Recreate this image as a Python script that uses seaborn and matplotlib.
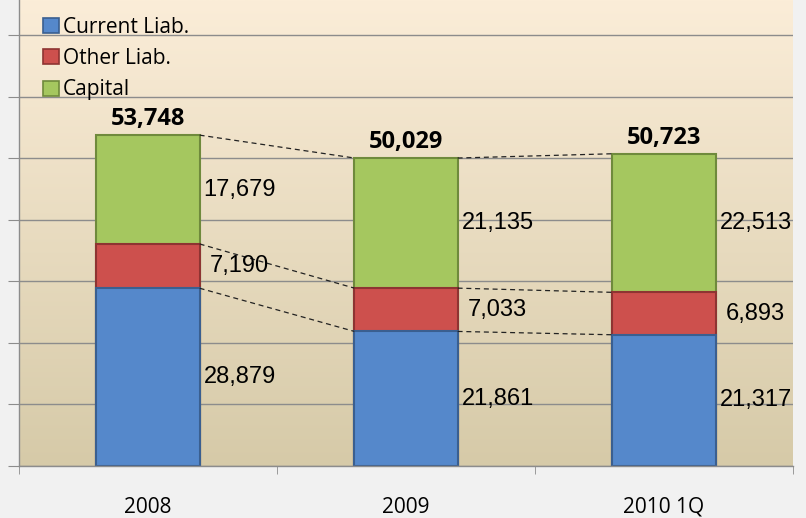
import numpy as np
import pandas as pd
import matplotlib
matplotlib.use("Agg")
import matplotlib.pyplot as plt
import seaborn as sns
from matplotlib.patches import Patch

# -------------------------------------------------------
# Data: balance structure (Current Liab. / Other Liab. / Capital)
# -------------------------------------------------------
periods = ["2008", "2009", "2010 1Q"]
current_liab = [28879, 21861, 21317]
other_liab = [7190, 7033, 6893]
capital = [17679, 21135, 22513]
totals = [53748, 50029, 50723]

series_names = ["Current Liab.", "Other Liab.", "Capital"]
colors = ["#5588CB", "#CD504D", "#A5C75F"]
edges = ["#3A5F90", "#8E3432", "#6F8A3C"]

df = pd.DataFrame({
    "period": periods,
    "Current Liab.": current_liab,
    "Other Liab.": other_liab,
    "Capital": capital,
})
# cumulative tops for overlay stacking
df["top_current"] = df["Current Liab."]
df["top_other"] = df["top_current"] + df["Other Liab."]
df["top_capital"] = df["top_other"] + df["Capital"]

sns.set_style("white")
plt.rcParams["font.family"] = ["Open Sans", "DejaVu Sans"]

fig = plt.figure(figsize=(8.06, 5.18), dpi=100)
fig.patch.set_facecolor("#F1F1F1")
ax = fig.add_axes([19 / 806, 52 / 518, 774 / 806, 466 / 518])

ymax = 75700
ax.set_xlim(-0.5, 2.5)
ax.set_ylim(0, ymax)

# gradient background in the plot area
top_c = np.array([251, 237, 216]) / 255
bot_c = np.array([214, 202, 168]) / 255
t = np.linspace(0, 1, 256)[:, None]
grad = (top_c * (1 - t) + bot_c * t)[:, None, :]
ax.imshow(grad, extent=[-0.5, 2.5, 0, ymax], aspect="auto", zorder=0)
ax.set_facecolor("none")

# gridlines
ax.set_yticks(np.arange(0, 70001, 10000))
ax.yaxis.grid(True, color="#8C8C8C", linewidth=1)
ax.set_axisbelow(True)

# stacked bars drawn as overlays from the tallest layer down
layers = [("top_capital", 2), ("top_other", 1), ("top_current", 0)]
for col, i in layers:
    sns.barplot(data=df, x="period", y=col, order=periods, color=colors[i],
                width=0.4, edgecolor=edges[i], linewidth=1.5, saturation=1,
                ax=ax, zorder=2)

# patches: first 3 capital, next 3 other, last 3 current
bars = {2: ax.patches[0:3], 1: ax.patches[3:6], 0: ax.patches[6:9]}

# dashed connector lines between the bars
for i in range(3):
    for j in range(2):
        p1 = bars[i][j]
        p2 = bars[i][j + 1]
        ax.plot([p1.get_x() + p1.get_width(), p2.get_x()],
                [p1.get_height(), p2.get_height()],
                color="#222222", linestyle=(0, (4, 3)), linewidth=0.9, zorder=3)

# segment labels to the right of each bar
seg_values = [current_liab, other_liab, capital]
seg_bottoms = [np.zeros(3), np.array(df["top_current"]), np.array(df["top_other"])]
for i in range(3):
    for j in range(3):
        p = bars[i][j]
        y = seg_bottoms[i][j] + seg_values[i][j] / 2
        ax.text(p.get_x() + p.get_width() + 0.155, y, f"{seg_values[i][j]:,}",
                ha="center", va="center", fontsize=17,
                family="Liberation Sans", color="black", zorder=4)

# totals above bars
for j in range(3):
    p = bars[2][j]
    ax.annotate(f"{totals[j]:,}", (p.get_x() + p.get_width() / 2, p.get_height()),
                xytext=(0, 3), textcoords="offset points", ha="center", va="bottom",
                fontsize=17, fontweight="bold", color="black", zorder=4)

# axes styling
for s in ["top", "right"]:
    ax.spines[s].set_visible(False)
for s in ["left", "bottom"]:
    ax.spines[s].set_color("#8C8C8C")
    ax.spines[s].set_linewidth(1)
ax.set_xlabel("")
ax.set_ylabel("")
ax.set_yticklabels([])
ax.tick_params(axis="y", length=8, color="#8C8C8C", left=True)
ax.set_xticks([0, 1, 2])
ax.set_xticklabels(periods)
ax.set_xticks([-0.5, 0.5, 1.5, 2.5], minor=True)
ax.tick_params(axis="x", which="major", length=0, pad=22, labelsize=15,
               labelcolor="black")
ax.tick_params(axis="x", which="minor", length=6, color="#8C8C8C", bottom=True)

# legend
handles = [Patch(facecolor=colors[i], edgecolor=edges[i], linewidth=1.2)
           for i in range(3)]
ax.legend(handles, series_names, loc="upper left", bbox_to_anchor=(0.01, 1.0),
          frameon=False, fontsize=15, handlelength=0.75, handleheight=0.75,
          handletextpad=0.2, labelspacing=0.5, borderaxespad=0.4,
          labelcolor="black")

fig.savefig("out.png", dpi=100, facecolor=fig.get_facecolor())
